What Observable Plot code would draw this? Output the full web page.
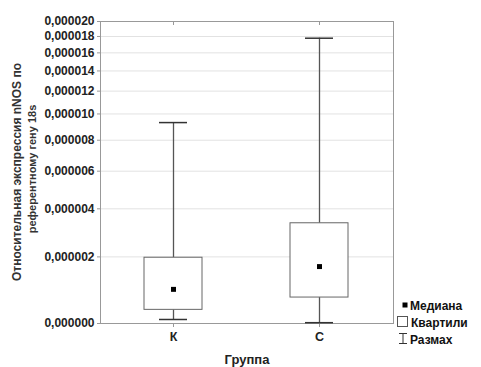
<!DOCTYPE html>
<html><head><meta charset="utf-8">
<script src="https://cdn.jsdelivr.net/npm/d3@7"></script>
<script src="https://cdn.jsdelivr.net/npm/@observablehq/plot@0.6"></script>
<style>
body{margin:0;background:#fff;font-family:"Liberation Sans",Arial,sans-serif;}
#c{position:relative;width:481px;height:367px;}
</style></head><body><div id="c"></div>
<script>
const groups = ["К", "С"];
const mins = [0.10e-6, 0.02e-6];
const q1s = [0.35e-6, 0.69e-6];
const medians = [0.93e-6, 1.66e-6];
const q3s = [1.97e-6, 3.34e-6];
const maxs = [9.31e-6, 17.78e-6];
const yTicks = [0, 2e-6, 4e-6, 6e-6, 8e-6, 10e-6, 12e-6, 14e-6, 16e-6, 18e-6, 20e-6];
const yLabel1 = "Относительная экспрессия nNOS по";
const yLabel2 = "референтному гену 18s";
const xLabel = "Группа";
const legendLabels = ["Медиана", "Квартили", "Размах"];

const data = groups.map((g, i) => ({g, min: mins[i], q1: q1s[i], med: medians[i], q3: q3s[i], max: maxs[i]}));
const fmt = d => d.toFixed(6).replace(".", ",");

const chart = Plot.plot({
  width: 481, height: 367,
  marginLeft: 100, marginRight: 88, marginTop: 21, marginBottom: 44,
  style: {fontFamily: "'Liberation Sans', Arial, sans-serif", background: "#fff"},
  x: {type: "band", domain: groups, paddingInner: 0.6, paddingOuter: 0.3, label: null},
  y: {type: "symlog", constant: 4.3e-6, domain: [0, 20e-6], label: null},
  marks: [
    Plot.gridY(yTicks, {stroke: "#e2e2e2", strokeOpacity: 1}),
    Plot.frame({stroke: "#999"}),
    Plot.axisY({ticks: yTicks, tickFormat: fmt, tickSize: 3, tickPadding: 3, fontSize: 12, fontWeight: "bold", fill: "#222", stroke: "#999", label: null}),
    Plot.axisX({tickSize: 4, tickPadding: 5, fontSize: 12.5, fontWeight: "bold", fill: "#222", stroke: "#999", label: null}),
    Plot.axisX({anchor: "top", tickSize: -3, text: null, stroke: "#999", label: null}),
    Plot.text([yLabel1], {frameAnchor: "left", dx: -83, dy: -0.5, rotate: -90, textAnchor: "middle", fontSize: 12, fontWeight: "bold", fill: "#333"}),
    Plot.text([yLabel2], {frameAnchor: "left", dx: -68, dy: -3.5, rotate: -90, textAnchor: "middle", fontSize: 11, fontWeight: "bold", fill: "#333"}),
    Plot.text([xLabel], {frameAnchor: "bottom", dy: 40, fontSize: 13, fontWeight: "bold", fill: "#222"}),
    Plot.ruleX(data, {x: "g", y1: "min", y2: "q1", stroke: "#555", strokeWidth: 1.3}),
    Plot.ruleX(data, {x: "g", y1: "q3", y2: "max", stroke: "#555", strokeWidth: 1.3}),
    Plot.tickY(data, {x: "g", y: "min", insetLeft: 15, insetRight: 15, stroke: "#333", strokeWidth: 1.5}),
    Plot.tickY(data, {x: "g", y: "max", insetLeft: 15, insetRight: 15, stroke: "#333", strokeWidth: 1.5}),
    Plot.barY(data, {x: "g", y1: "q1", y2: "q3", fill: "#fff", stroke: "#666", strokeWidth: 1}),
    Plot.dot(data, {x: "g", y: "med", symbol: "square", r: 2.8, fill: "#000", stroke: "none"})
  ]
});
document.getElementById("c").appendChild(chart);

// legend
const svg = d3.select(chart);
const lg = svg.append("g").attr("font-family", "'Liberation Sans', Arial, sans-serif").attr("font-weight", "bold").attr("font-size", 12).attr("fill", "#111").attr("text-anchor", "start");
lg.append("rect").attr("x", 402.5).attr("y", 302.5).attr("width", 5).attr("height", 5).attr("fill", "#000");
lg.append("text").attr("x", 410).attr("y", 309.5).text(legendLabels[0]);
lg.append("rect").attr("x", 397.5).attr("y", 316.5).attr("width", 10).attr("height", 10).attr("fill", "#fff").attr("stroke", "#555");
lg.append("text").attr("x", 411).attr("y", 327).text(legendLabels[1]);
const iy1 = 333.5, iy2 = 343.5, ix = 403;
lg.append("line").attr("x1", ix).attr("x2", ix).attr("y1", iy1).attr("y2", iy2).attr("stroke", "#333");
lg.append("line").attr("x1", ix - 4).attr("x2", ix + 4).attr("y1", iy1).attr("y2", iy1).attr("stroke", "#333");
lg.append("line").attr("x1", ix - 4).attr("x2", ix + 4).attr("y1", iy2).attr("y2", iy2).attr("stroke", "#333");
lg.append("text").attr("x", 410).attr("y", 344).text(legendLabels[2]);
</script></body></html>
